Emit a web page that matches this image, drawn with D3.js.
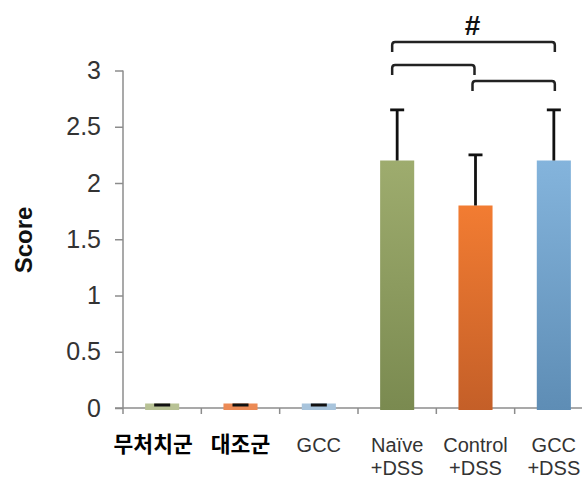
<!DOCTYPE html>
<html><head><meta charset="utf-8">
<script src="https://cdn.jsdelivr.net/npm/d3@7"></script>
<style>body{margin:0;background:#fff}svg{display:block}</style>
</head><body>
<svg id="c" width="582" height="479"></svg>
<script>
const categories = ["무처치군", "대조군", "GCC", "Naïve\n+DSS", "Control\n+DSS", "GCC\n+DSS"];
const values = [0.04, 0.04, 0.04, 2.2, 1.8, 2.2];
const errors = [0, 0, 0, 0.45, 0.45, 0.45];
const yTicks = [0, 0.5, 1, 1.5, 2, 2.5, 3];
const yTickLabels = ["0", "0.5", "1", "1.5", "2", "2.5", "3"];
const colorKeys = ["g", "o", "b", "g", "o", "b"];
const faded = [true, true, true, false, false, false];
const brackets = [[3, 5, 0], [3, 4, 1], [4, 5, 2]];

const svg = d3.select("#c");
const x = d3.scaleBand().domain(d3.range(categories.length)).range([123, 593]).paddingInner(0.565).paddingOuter(0.2825);
const y = d3.scaleLinear().domain([0, 3]).range([408, 70.5]);

const defs = svg.append("defs");
const grads = {g: ["#9eac6e", "#7a8a50"], o: ["#f27c32", "#c45f28"], b: ["#84b4dc", "#5e8db5"]};
Object.entries(grads).forEach(([k, c]) => {
  const g = defs.append("linearGradient").attr("id", "gr" + k).attr("x1", 0).attr("x2", 0).attr("y1", 0).attr("y2", 1);
  g.append("stop").attr("offset", "0%").attr("stop-color", c[0]);
  g.append("stop").attr("offset", "100%").attr("stop-color", c[1]);
});
const fadedCol = {g: "#b8c295", o: "#ec8a55", b: "#a8c4dc"};

// y axis
const yAxis = d3.axisLeft(y).tickValues(yTicks).tickFormat((d, i) => yTickLabels[i]).tickSize(8).tickPadding(14);
const ya = svg.append("g").attr("transform", "translate(123,0)").call(yAxis);
ya.select(".domain").attr("stroke", "#8c8c8c").attr("stroke-width", 1.5).attr("d", "M0,70.5V408");
ya.selectAll(".tick line").attr("stroke", "#8c8c8c").attr("stroke-width", 1.5);
ya.selectAll(".tick text").attr("font-family", "Liberation Sans, Arial, sans-serif").attr("font-size", 25).attr("fill", "#333");

// x axis line and ticks
const bw = x.step();
svg.append("line").attr("x1", 115).attr("x2", 582).attr("y1", 408).attr("y2", 408).attr("stroke", "#8c8c8c").attr("stroke-width", 1.5);
d3.range(categories.length + 1).forEach(i => {
  const tx = 123 + i * bw;
  svg.append("line").attr("x1", tx).attr("x2", tx).attr("y1", 408).attr("y2", 414).attr("stroke", "#8c8c8c").attr("stroke-width", 1.5);
});

// bars
svg.selectAll("rect.bar").data(values).join("rect").attr("class", "bar")
  .attr("x", (d, i) => x(i)).attr("width", x.bandwidth())
  .attr("y", d => y(d)).attr("height", d => y(0) - y(d) + 2)
  .attr("fill", (d, i) => faded[i] ? fadedCol[colorKeys[i]] : `url(#gr${colorKeys[i]})`);

// error bars
values.forEach((v, i) => {
  const cx = x(i) + x.bandwidth() / 2;
  const top = y(v + errors[i]);
  if (errors[i] > 0) {
    svg.append("line").attr("x1", cx).attr("x2", cx).attr("y1", y(v)).attr("y2", top).attr("stroke", "#111").attr("stroke-width", 2.8);
    svg.append("line").attr("x1", cx - 7).attr("x2", cx + 7).attr("y1", top).attr("y2", top).attr("stroke", "#111").attr("stroke-width", 2.8);
  } else {
    svg.append("line").attr("x1", cx - 8).attr("x2", cx + 8).attr("y1", top + 1.5).attr("y2", top + 1.5).attr("stroke", "#111").attr("stroke-width", 3);
  }
});

// x labels
categories.forEach((c, i) => {
  const cx = x(i) + x.bandwidth() / 2;
  const lines = c.split("\n");
  const korean = /[\uac00-\ud7a3]/.test(c);
  const t = svg.append("text").attr("text-anchor", "middle")
    .attr("font-family", korean ? "Noto Sans CJK KR, sans-serif" : "Liberation Sans, Arial, sans-serif")
    .attr("font-weight", korean ? 700 : 400)
    .attr("font-size", korean ? 21.5 : 20)
    .attr("fill", korean ? "#000" : "#333");
  lines.forEach((l, j) => {
    t.append("tspan").attr("x", korean ? cx - (i === 0 ? 9 : 0) : cx).attr("y", 452 + j * 23).text(l);
  });
});

// y label
svg.append("text").attr("transform", "translate(32,240) rotate(-90)").attr("text-anchor", "middle")
  .attr("font-family", "Liberation Sans, Arial, sans-serif").attr("font-weight", 700).attr("font-size", 24).attr("fill", "#111").text("Score");

// brackets
const bY = [42, 65, 81];
brackets.forEach(([a, b, lvl]) => {
  let x1 = x(a) + x.bandwidth() / 2 - 5, x2 = x(b) + x.bandwidth() / 2 + 1;
  if (lvl === 1) x2 = x(b) + x.bandwidth() / 2 - 1;
  if (lvl === 2) x1 = x(a) + x.bandwidth() / 2 - 3;
  const yy = bY[lvl], r = 3, h = 10;
  svg.append("path").attr("fill", "none").attr("stroke", "#222").attr("stroke-width", 2.5)
    .attr("d", `M${x1},${yy + h}V${yy + r}Q${x1},${yy} ${x1 + r},${yy}H${x2 - r}Q${x2},${yy} ${x2},${yy + r}V${yy + h}`);
});
svg.append("text").attr("x", (x(3) + x(5) + x.bandwidth()) / 2 - 3).attr("y", 35).attr("text-anchor", "middle")
  .attr("font-family", "Liberation Sans, Arial, sans-serif").attr("font-size", 28).attr("font-weight", 700).attr("fill", "#111").text("#");
</script>
</body></html>
